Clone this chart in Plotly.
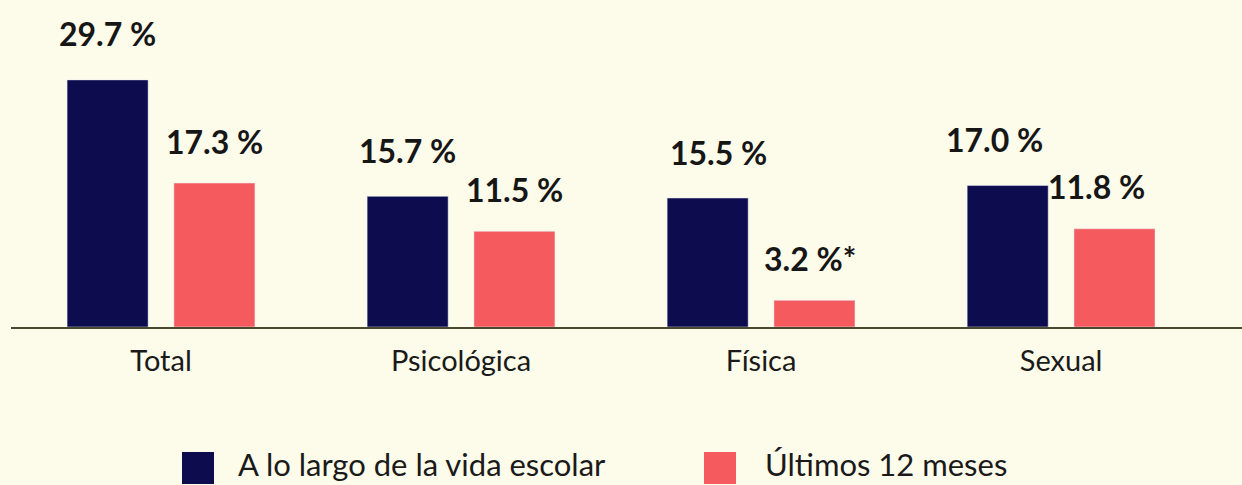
import plotly.graph_objects as go

categories = ["Total", "Psicológica", "Física", "Sexual"]
vida_escolar = [29.7, 15.7, 15.5, 17.0]
ultimos_12 = [17.3, 11.5, 3.2, 11.8]
labels_vida = ["29.7 %", "15.7 %", "15.5 %", "17.0 %"]
labels_12 = ["17.3 %", "11.5 %", "3.2 %*", "11.8 %"]
series_names = ["A lo largo de la vida escolar", "Últimos 12 meses"]

NAVY = "#0c0c4e"
SALMON = "#f55a5e"
BG = "#fdfbea"
W = 0.27
OFF_A = -0.313
OFF_B = 0.043

# label nudges (px) to follow the original hand placement
nudge_a = [0, 0, 11, -13]
nudge_b = [0, 0, -4, -18]

fig = go.Figure()
fig.add_trace(go.Bar(x=categories, y=vida_escolar, name=series_names[0],
                     marker_color=NAVY, width=W, offset=OFF_A, showlegend=False))
fig.add_trace(go.Bar(x=categories, y=ultimos_12, name=series_names[1],
                     marker_color=SALMON, width=W, offset=OFF_B, showlegend=False))

font_lbl = dict(family="Lato, sans-serif", size=32, color="#161616", weight="bold")
for i, c in enumerate(categories):
    fig.add_annotation(x=i + OFF_A + W / 2, y=vida_escolar[i], text="<b>%s</b>" % labels_vida[i],
                       showarrow=False, yanchor="middle", yshift=46, xshift=nudge_a[i], font=font_lbl)
    fig.add_annotation(x=i + OFF_B + W / 2, y=ultimos_12[i], text="<b>%s</b>" % labels_12[i],
                       showarrow=False, yanchor="middle", yshift=42, xshift=nudge_b[i], font=font_lbl)

# manual legend (paper coords; plot area spans x 11..1242, y 0..327 px)
leg_font = dict(family="Lato, sans-serif", size=31, color="#1a1a1a")
legend_items = [(series_names[0], NAVY, 182, 236), (series_names[1], SALMON, 704, 763)]
for name, col, x0, xt in legend_items:
    fig.add_shape(type="rect", xref="paper", yref="paper",
                  x0=(x0 - 11) / 1231, x1=(x0 + 32 - 11) / 1231,
                  y0=(327 - 484) / 327, y1=(327 - 452) / 327,
                  line_width=0, fillcolor=col, layer="above")
    fig.add_annotation(xref="paper", yref="paper", x=(xt - 11) / 1231, y=(327 - 464) / 327,
                       text=name, showarrow=False, xanchor="left", yanchor="middle", font=leg_font)

fig.update_layout(
    width=1242, height=485,
    margin=dict(l=11, r=0, t=0, b=158),
    paper_bgcolor=BG, plot_bgcolor=BG,
    barmode="group",
    showlegend=False,
)
fig.update_xaxes(type="category", range=[-0.5, 3.603], showline=True, linecolor="#4a4a2e",
                 linewidth=2, showgrid=False, zeroline=False, ticks="outside", ticklen=7,
                 tickcolor="rgba(0,0,0,0)", tickfont=dict(family="Lato, sans-serif", size=29, color="#1a1a1a"))
fig.update_yaxes(range=[0, 39.3], visible=False, showgrid=False, zeroline=False)

fig.write_html("out.html", config={"displayModeBar": False},
               post_script="document.body.style.margin='0';document.body.style.overflow='hidden';")
